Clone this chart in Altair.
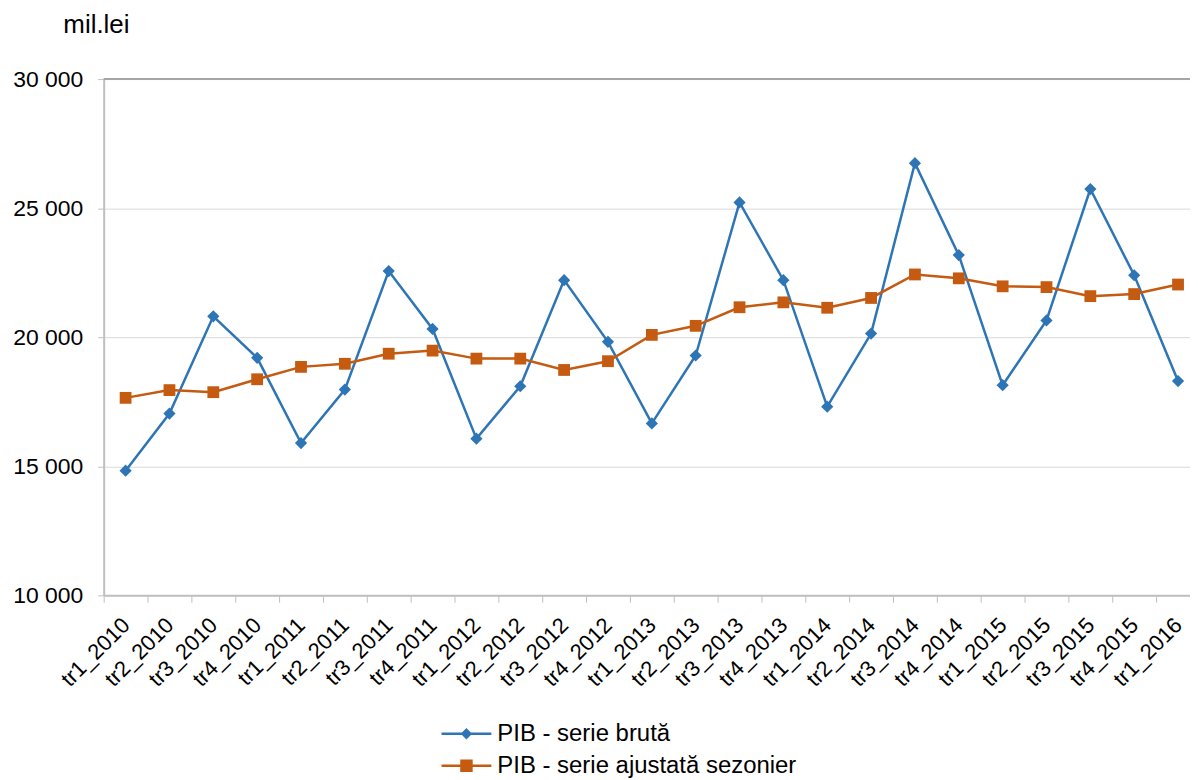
import altair as alt
import pandas as pd

categories = [
    "tr1_2010", "tr2_2010", "tr3_2010", "tr4_2010",
    "tr1_2011", "tr2_2011", "tr3_2011", "tr4_2011",
    "tr1_2012", "tr2_2012", "tr3_2012", "tr4_2012",
    "tr1_2013", "tr2_2013", "tr3_2013", "tr4_2013",
    "tr1_2014", "tr2_2014", "tr3_2014", "tr4_2014",
    "tr1_2015", "tr2_2015", "tr3_2015", "tr4_2015",
    "tr1_2016",
]
raw_values = [14830, 17040, 20810, 19200, 15900, 17970, 22560, 20320,
              16070, 18100, 22210, 19820, 16660, 19290, 25220, 22210,
              17310, 20140, 26740, 23180, 18140, 20650, 25740, 22400,
              18300]
sa_values = [17650, 17950, 17870, 18370, 18850, 18970, 19360, 19480,
             19170, 19170, 18730, 19070, 20090, 20440, 21160, 21350,
             21140, 21520, 22430, 22280, 21970, 21940, 21590, 21670,
             22040]
series_names = ["PIB - serie brută", "PIB - serie ajustată sezonier"]
series_colors = ["#2E75B6", "#C55A11"]
series_shapes = ["diamond", "square"]
legend_paths = ["M-5,0H5M0,-0.8L0.8,0L0,0.8L-0.8,0Z",
                "M-5,0H5M-1,-1H1V1H-1Z"]
y_ticks = [10000, 15000, 20000, 25000, 30000]
y_top = [30000]

FONT = "Liberation Sans"

df = pd.DataFrame({
    "cat": categories + categories,
    "val": raw_values + sa_values,
    "series": [series_names[0]] * len(raw_values) + [series_names[1]] * len(sa_values),
})
top_df = pd.DataFrame({"v": y_top})

legend = alt.Legend(
    title=None, orient="none", legendX=352, legendY=645,
    labelFont=FONT, labelFontSize=24, labelColor="#000000",
    symbolSize=100, symbolStrokeWidth=2.5, labelOffset=19,
    rowPadding=8, padding=0, labelLimit=0, symbolOpacity=1,
)

x_enc = alt.X(
    "cat:N",
    bandPosition=0.5,
    scale=alt.Scale(type="band", domain=categories, range=[0, 1100],
                    paddingInner=0, paddingOuter=0),
    axis=alt.Axis(
        title=None, labelAngle=-45, labelAlign="right", labelBaseline="middle",
        labelFont=FONT, labelFontSize=22, labelColor="#000000", labelPadding=19,
        tickSize=7, tickColor="#BFBFBF", tickWidth=1,
        domainColor="#BFBFBF", domainWidth=2, tickBand="extent",
        grid=False, labelOverlap=False,
    ),
)
y_enc = alt.Y(
    "val:Q",
    scale=alt.Scale(domain=[10000, 30000], nice=False, zero=False),
    axis=alt.Axis(
        values=y_ticks, title="mil.lei", titleAngle=0, titleX=-41, titleY=-47,
        titleAlign="left", titleBaseline="alphabetic", titleFont=FONT,
        titleFontSize=26, titleFontWeight="normal", titleColor="#000000",
        labelFont=FONT, labelFontSize=23, labelColor="#000000", labelPadding=15,
        tickSize=6, tickColor="#BFBFBF", domainColor="#BFBFBF", domainWidth=2,
        gridColor="#D9D9D9", gridWidth=1,
        labelExpr="replace(format(datum.value, ','), ',', ' ')",
    ),
)

base = alt.Chart(df)


def series_layers(i, size):
    d = base.transform_filter(alt.datum.series == series_names[i])
    line = d.mark_line(strokeWidth=2.5, color=series_colors[i]).encode(x=x_enc, y=y_enc)
    pts = d.mark_point(shape=series_shapes[i], size=size, filled=True, opacity=1,
                       color=series_colors[i]).encode(x=x_enc, y=y_enc)
    return [line, pts]


legend_layer = base.mark_point(filled=True, strokeWidth=2.5, opacity=0).encode(
    x=x_enc, y=y_enc,
    color=alt.Color("series:N", scale=alt.Scale(domain=series_names, range=series_colors),
                    legend=legend),
    stroke=alt.Stroke("series:N", scale=alt.Scale(domain=series_names, range=series_colors),
                      legend=legend),
    shape=alt.Shape("series:N", scale=alt.Scale(domain=series_names, range=legend_paths),
                    legend=legend),
)

top_rule = alt.Chart(top_df).mark_rule(color="#A6A6A6", strokeWidth=2).encode(
    y=alt.Y("v:Q"))

layers = (series_layers(0, 150) + series_layers(1, 140) + [legend_layer, top_rule])

chart = alt.layer(*layers).properties(
    width=1090, height=518,
    padding={"left": 96, "top": 70, "right": 0, "bottom": 184},
    autosize=alt.AutoSizeParams(type="none"),
    background="#FFFFFF",
).configure_view(stroke=None)

chart.save("out.html", embed_options={"renderer": "svg", "actions": False})
